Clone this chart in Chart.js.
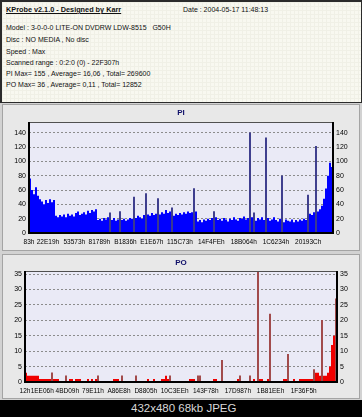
<!DOCTYPE html>
<html><head><meta charset="utf-8">
<script src="https://cdn.jsdelivr.net/npm/chart.js@4.4.0/dist/chart.umd.min.js"></script>
<style>
html,body{margin:0;padding:0}
body{width:362px;height:417px;background:#d2d2d2;position:relative;overflow:hidden;font-family:"Liberation Sans",Arial,sans-serif}
#hdr{position:absolute;left:0;top:0;width:362px;height:103px;box-sizing:border-box;border:2px solid #2b2b2b;border-bottom-width:1px;border-right-width:1px;background-color:#f8f8f0;background-image:linear-gradient(#f0f0e6 1px,transparent 1px),linear-gradient(90deg,#f0f0e6 1px,transparent 1px);background-size:4px 4px}
#hdr div{position:absolute;white-space:pre;font-size:7px;line-height:9px;color:#111}
#hdr .t{font-weight:bold;font-size:7.3px;text-decoration:underline}
.panel{position:absolute;left:2px;width:358px;box-sizing:border-box;border:1px solid #a4a4a4;background:#e8e8e8}
#foot{position:absolute;left:0;top:400px;width:362px;height:17px;background:#000}
#foot span{position:absolute;left:131px;top:1px;font-size:11.5px;line-height:14px;color:#d8d8d8}
canvas{position:absolute}
</style></head>
<body>
<div id="hdr">
<div class="t" style="left:4px;top:3px">KProbe v2.1.0 - Designed by Karr</div>
<div style="left:181px;top:3px">Date : 2004-05-17 11:48:13</div>
<div style="left:4px;top:21px">Model : 3-0-0-0 LITE-ON DVDRW LDW-8515   G50H</div>
<div style="left:4px;top:33px">Disc : NO MEDIA , No disc</div>
<div style="left:4px;top:45px">Speed : Max</div>
<div style="left:4px;top:56px">Scanned range : 0:2:0 (0) - 22F307h</div>
<div style="left:4px;top:67px">PI Max= 155 , Average= 16,06 , Total= 269600</div>
<div style="left:4px;top:78px">PO Max= 36 , Average= 0,11 , Total= 12852</div>
</div>
<div class="panel" style="top:104px;height:147px"></div>
<div class="panel" style="top:254px;height:145px"></div>
<canvas id="pi" width="354" height="146" style="left:4px;top:104px"></canvas>
<canvas id="po" width="354" height="143" style="left:4px;top:255px"></canvas>
<div id="foot"><span>432x480 68kb JPEG</span></div>
<script>
// ---- data ----
const scanEnd = 0x22F307;
const piXLabels = ['83h','22E19h','53573h','81789h','B1836h','E1E67h','115C73h','14F4FEh','18B064h','1C6234h','20193Ch'];
const poXLabels = ['12h','1EE06h','4BD09h','79E11h','A86E8h','D8805h','10C3EEh','143F78h','17D987h','1B81EEh','1F36F5h'];
const piYTicks = [0,20,40,60,80,100,120,140];
const poYTicks = [0,5,10,15,20,25,30,35];
const piMax = 155;
const poMax = 36;
const piValues = [76,60,54,64,52,47,44,40,46,42,47,43,46,24,22,25,23,26,22,27,
24,26,23,28,30,25,27,29,26,31,28,32,30,33,18,20,17,21,19,22,
20,18,21,17,19,22,18,20,17,19,21,20,23,21,24,22,20,25,23,26,
24,28,25,27,30,26,29,27,32,28,30,26,24,27,25,28,26,29,27,30,
28,29,27,30,16,18,15,19,17,20,18,21,19,22,18,20,17,21,19,16,
20,18,22,19,17,21,20,23,19,21,18,22,20,17,21,19,22,18,20,21,
17,19,22,18,16,20,18,15,19,17,16,19,15,18,16,19,17,20,18,24,
27,25,29,26,30,33,38,48,62,80,98,92];
const piSpikeIndex = [40,45,52,58,64,71,82,92,110,112,118,126,139,143];
const piSpikeValue = [28,30,50,55,48,35,62,30,140,28,133,80,53,121];
const poValues = [3,2,2,2,2,2,2,1,1,1,1,1,1,1,1,1,1,0,0,0,
1,0,1,1,0,1,1,1,0,0,0,1,0,1,0,1,1,0,0,0,
0,0,0,0,1,1,1,0,1,0,0,0,0,0,0,1,0,0,0,0,
0,1,0,0,1,0,0,0,1,1,2,1,1,0,0,0,0,0,0,0,
0,0,1,1,1,0,1,1,0,0,0,0,0,0,1,1,0,0,0,0,
0,0,0,0,0,0,1,1,0,0,0,0,0,0,1,0,0,1,1,0,
0,1,0,0,0,0,0,0,0,1,1,0,0,0,1,0,0,1,1,1,
1,1,1,1,1,3,3,2,2,2,2,3,5,12,15,13];
const poSpikeIndex = [13,20,36,48,55,72,86,87,98,107,112,116,122,131,144,148,155];
const poSpikeValue = [3,2,2,2,2,2,2,2,7,2,2,36,22,9,4,20,27];

// ---- helpers ----
function stepSeries(vals, end){
  const step = end / vals.length;
  const pts = vals.map((v,i)=>({x:i*step, y:v}));
  pts.push({x:end, y:vals[vals.length-1]});
  return pts;
}
function spikeSeries(idx, vals, n, end){
  const step = end / n;
  return idx.map((k,j)=>({x:(k+0.5)*step, y:vals[j]}));
}
const FONT = '"Liberation Sans", Arial, sans-serif';
const framePlugin = {
  id:'frame',
  beforeDraw(c){
    const a=c.chartArea, x=c.ctx;
    x.save(); x.fillStyle='#eaeaf6'; x.fillRect(a.left,a.top,a.right-a.left,a.bottom-a.top); x.restore();
  },
  afterDatasetsDraw(c){
    const a=c.chartArea, x=c.ctx;
    x.save();
    x.strokeStyle='#505050'; x.lineWidth=1;
    x.beginPath(); x.moveTo(a.left,a.top+0.5); x.lineTo(a.right,a.top+0.5); x.stroke();
    x.strokeStyle='#000'; x.lineWidth=2;
    x.beginPath(); x.moveTo(a.left,a.top); x.lineTo(a.left,a.bottom); x.lineTo(a.right,a.bottom); x.lineTo(a.right,a.top); x.stroke();
    x.restore();
  }
};
function makeChart(id, o){
  const yAxis = (pos, grid) => ({
    type:'linear', position:pos, min:0, max:o.yMax,
    afterBuildTicks: s => { s.ticks = o.yTicks.map(v=>({value:v})); },
    afterFit: s => { s.width = o.axisW; },
    ticks:{font:{family:FONT,size:7}, color:'#000', padding:3},
    grid:{display:grid, drawTicks:false, color:'#8c8c8c', lineWidth:1},
    border:{display:false, dash:[2,2]}
  });
  return new Chart(document.getElementById(id), {
    type:'line',
    data:{datasets:[
      {type:'bar', data:spikeSeries(o.spikeIdx,o.spikeVal,o.values.length,scanEnd), backgroundColor:o.spikeColor, barThickness:1.3, borderWidth:0},
      {type:'line', data:stepSeries(o.values,scanEnd), stepped:true, fill:'origin', backgroundColor:o.color, borderColor:o.color, borderWidth:0, pointRadius:0}
    ]},
    options:{
      responsive:false, animation:false, devicePixelRatio:1,
      layout:{padding:0},
      plugins:{
        legend:{display:false}, tooltip:{enabled:false},
        title:{display:true, text:o.title, color:'#10106a', font:{family:FONT,size:8,weight:'bold',lineHeight:1.5}, padding:{top:o.tPad,bottom:o.tPad}}
      },
      scales:{
        x:{type:'linear', min:0, max:scanEnd, offset:false,
          afterBuildTicks: s => { s.ticks = o.xLabels.map(l=>({value:parseInt(l,16)})); },
          afterFit: s => { s.height = o.xH; },
          ticks:{autoSkip:false, maxRotation:0, minRotation:0, font:{family:FONT,size:6.5}, color:'#000', padding:5,
            callback:(v,i)=>o.xLabels[i]},
          grid:{display:false, drawTicks:false}, border:{display:false}},
        y:yAxis('left', true),
        y2:yAxis('right', false)
      }
    },
    plugins:[framePlugin]
  });
}
makeChart('pi', {title:'PI', values:piValues, color:'#0000ff', spikeIdx:piSpikeIndex, spikeVal:piSpikeValue, spikeColor:'#3c3c8c',
  yMax:piMax, yTicks:piYTicks, xLabels:piXLabels, axisW:25, xH:17, tPad:3});
makeChart('po', {title:'PO', values:poValues, color:'#f00000', spikeIdx:poSpikeIndex, spikeVal:poSpikeValue, spikeColor:'#a04848',
  yMax:poMax, yTicks:poYTicks, xLabels:poXLabels, axisW:21, xH:16, tPad:2});
</script>
</body></html>
